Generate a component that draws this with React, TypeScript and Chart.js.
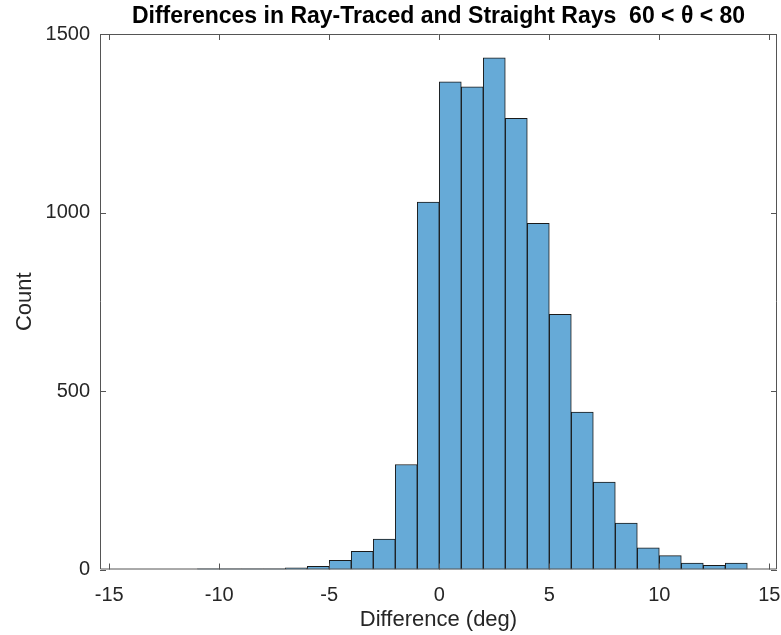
import React, { useEffect, useRef } from "react";
import { Chart, registerables } from "chart.js";

Chart.register(...registerables);

const TITLE = "Differences in Ray-Traced and Straight Rays  60 < \u03b8 < 80";
const X_LABEL = "Difference (deg)";
const Y_LABEL = "Count";

// Left edges of 1-degree histogram bins
const binStarts = [-11, -10, -9, -8, -7, -6, -5, -4, -3, -2, -1, 0, 1, 2, 3, 4, 5, 6, 7, 8, 9, 10, 11, 12, 13];
const binWidth = 1;
// Counts per bin
const counts = [2, 2, 2, 2, 5, 9, 26, 51, 85, 294, 1029, 1366, 1352, 1433, 1264, 970, 715, 441, 245, 130, 61, 39, 18, 12, 18];

const xTicks = [-15, -10, -5, 0, 5, 10, 15];
const yTicks = [0, 500, 1000, 1500];
const xMin = -15.42;
const xMax = 15.35;
const yMin = 0;
const yMax = 1500;

const FONT = "'Liberation Sans', Arial, Helvetica, sans-serif";
const AXIS_COLOR = "#555555";
const TEXT_COLOR = "#262626";

const boxPlugin = {
  id: "matlabBox",
  afterDraw(chart: any) {
    const { ctx, chartArea } = chart;
    const { left, right, top, bottom } = chartArea;
    const xs = chart.scales.x;
    const ys = chart.scales.y;
    const tl = 6;
    ctx.save();
    ctx.strokeStyle = AXIS_COLOR;
    ctx.lineWidth = 1;
    ctx.beginPath();
    ctx.rect(left + 0.5, top + 0.5, right - left - 1, bottom - top - 1);
    ctx.stroke();
    ctx.beginPath();
    for (const v of xTicks) {
      const px = Math.round(xs.getPixelForValue(v)) + 0.5;
      ctx.moveTo(px, bottom);
      ctx.lineTo(px, bottom - tl);
      ctx.moveTo(px, top);
      ctx.lineTo(px, top + tl);
    }
    for (const v of yTicks) {
      const py = Math.round(ys.getPixelForValue(v)) + 0.5;
      ctx.moveTo(left, py);
      ctx.lineTo(left + tl, py);
      ctx.moveTo(right, py);
      ctx.lineTo(right - tl, py);
    }
    ctx.stroke();
    ctx.restore();
  },
};

export default function App() {
  const ref = useRef<HTMLCanvasElement>(null);

  useEffect(() => {
    if (!ref.current) return;
    const data = binStarts.map((s, i) => ({ x: s + binWidth / 2, y: counts[i] }));
    const chart = new Chart(ref.current, {
      type: "bar",
      data: {
        datasets: [
          {
            data,
            backgroundColor: "#66AAD7",
            borderColor: "#1a1a1a",
            borderWidth: 1,
            borderSkipped: "start",
            barPercentage: 1,
            categoryPercentage: 1,
          },
        ],
      },
      options: {
        responsive: false,
        animation: false,
        layout: { padding: { left: 0, right: 4, top: 0, bottom: 0 } },
        plugins: {
          legend: { display: false },
          tooltip: { enabled: false },
          title: {
            display: true,
            fullSize: false,
            text: TITLE,
            color: "#000000",
            font: { family: FONT, size: 23, weight: "bold", lineHeight: 1.2 },
            padding: { top: 3, bottom: 3.4 },
          },
        },
        scales: {
          x: {
            type: "linear",
            offset: false,
            min: xMin,
            max: xMax,
            grid: { display: false, drawTicks: false },
            border: { display: false },
            ticks: {
              stepSize: 5,
              includeBounds: false,
              padding: 14,
              color: TEXT_COLOR,
              font: { family: FONT, size: 20 },
              maxRotation: 0,
              autoSkip: false,
              callback: (v: any) => String(v),
            },
            afterBuildTicks: (scale: any) => {
              scale.ticks = xTicks.map((v) => ({ value: v }));
            },
            afterFit: (scale: any) => {
              scale.height = 65.5;
              scale.paddingLeft = 0;
              scale.paddingRight = 0;
            },
            title: {
              display: true,
              text: X_LABEL,
              color: TEXT_COLOR,
              font: { family: FONT, size: 22, lineHeight: 1.2 },
              padding: { top: 0, bottom: 2 },
            },
          },
          y: {
            type: "linear",
            min: yMin,
            max: yMax,
            grid: { display: false, drawTicks: false },
            border: { display: false },
            ticks: {
              stepSize: 500,
              padding: 10,
              color: TEXT_COLOR,
              font: { family: FONT, size: 20 },
              callback: (v: any) => String(v),
            },
            afterBuildTicks: (scale: any) => {
              scale.ticks = yTicks.map((v) => ({ value: v }));
            },
            afterFit: (scale: any) => {
              scale.width = 100;
              scale.paddingTop = 0;
              scale.paddingBottom = 0;
            },
            title: {
              display: true,
              text: Y_LABEL,
              color: TEXT_COLOR,
              font: { family: FONT, size: 22, lineHeight: 1.2 },
              padding: { top: 12, bottom: 0 },
            },
          },
        },
      },
      plugins: [boxPlugin],
    } as any);
    return () => chart.destroy();
  }, []);

  return (
    <div style={{ position: "absolute", left: 0, top: 0, width: 781, height: 635, background: "#fff" }}>
      <canvas ref={ref} width={781} height={635} style={{ display: "block" }} />
    </div>
  );
}
